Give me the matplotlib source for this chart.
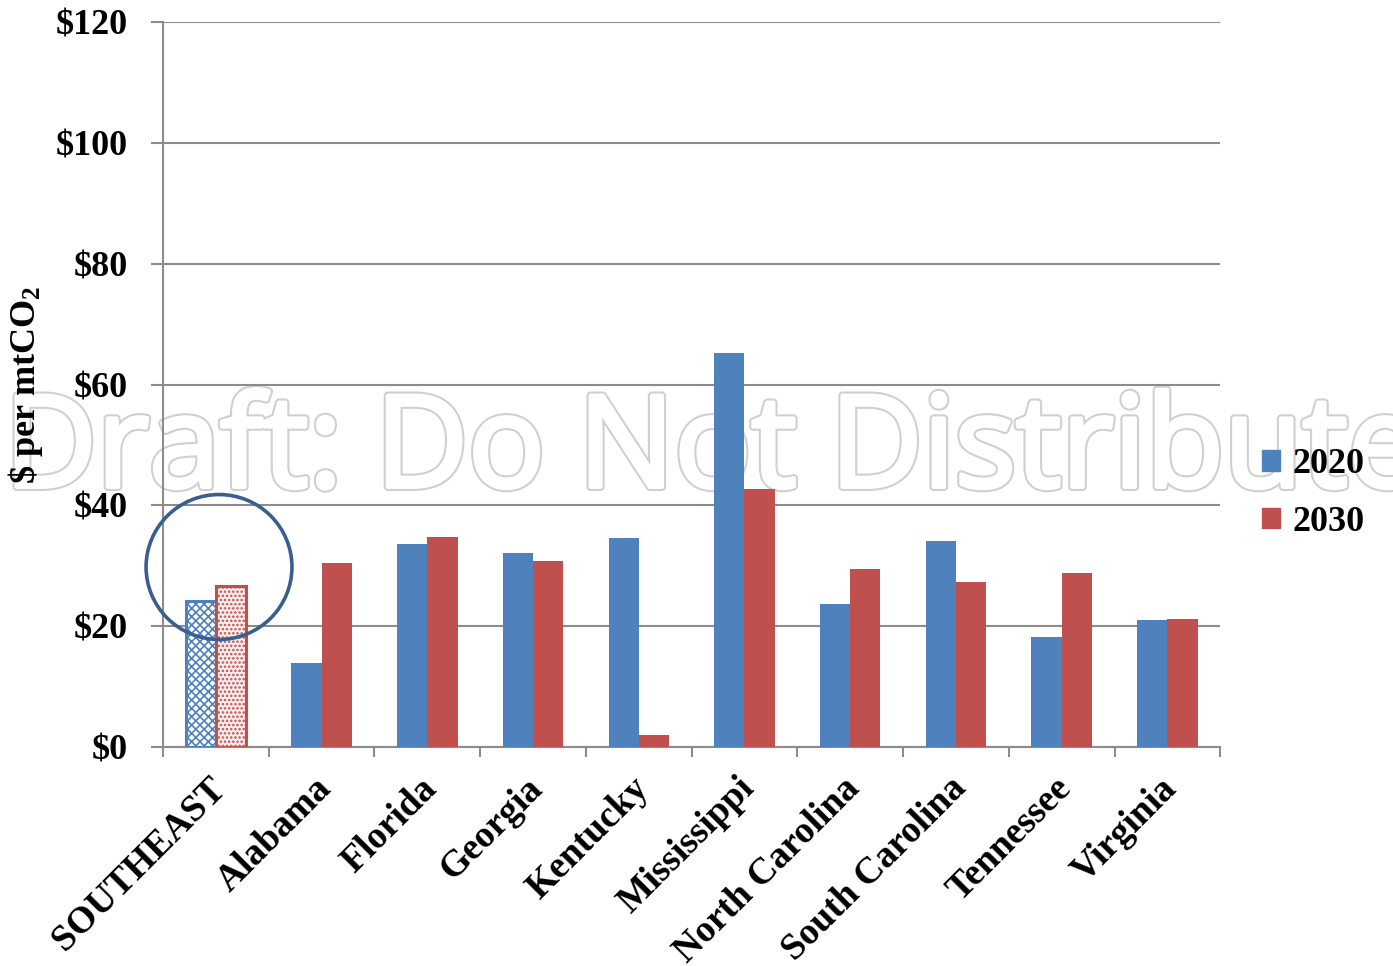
import matplotlib.pyplot as plt
import matplotlib.patheffects as pe
import matplotlib.transforms as mtransforms
from matplotlib.patches import Ellipse, Patch
import numpy as np

states = ['SOUTHEAST', 'Alabama', 'Florida', 'Georgia', 'Kentucky', 'Mississippi',
          'North Carolina', 'South Carolina', 'Tennessee', 'Virginia']
cost_2020 = [24.2, 13.9, 33.6, 32.1, 34.6, 65.2, 23.7, 34.1, 18.2, 21.0]
cost_2030 = [26.7, 30.5, 34.8, 30.8, 2.0, 42.7, 29.5, 27.3, 28.8, 21.2]
yticks = [0, 20, 40, 60, 80, 100, 120]

blue = '#4F81BD'
red = '#C0504D'
grey = '#8c8c8c'

plt.rcParams['font.family'] = 'Liberation Serif'
plt.rcParams['font.weight'] = 'bold'
plt.rcParams['mathtext.fontset'] = 'custom'
plt.rcParams['mathtext.bf'] = 'Liberation Serif:bold'
plt.rcParams['mathtext.rm'] = 'Liberation Serif:bold'
plt.rcParams['mathtext.default'] = 'bf'
plt.rcParams['hatch.linewidth'] = 1.2

fig = plt.figure(figsize=(13.93, 9.66), dpi=100)

# watermark sits behind everything
fig.text(0.003, 0.496, 'Draft: Do Not Distribute', family='Open Sans', fontsize=92,
         color='white', weight='normal', zorder=-1,
         path_effects=[pe.SimplePatchShadow(offset=(2, -2), shadow_rgbFace='#888888', alpha=0.45),
                       pe.Stroke(linewidth=6, foreground='#d0d0d0'),
                       pe.Stroke(linewidth=3, foreground='white'), pe.Normal()])

ax = fig.add_axes([0.117, 0.2267, 0.759, 0.7503])
ax.patch.set_alpha(0)

x = np.arange(len(states))
w = 0.286
ax.bar(x[1:] - w / 2, cost_2020[1:], w, color=blue, zorder=3)
ax.bar(x[1:] + w / 2, cost_2030[1:], w, color=red, zorder=3)
# regional bars highlighted with pattern fill
ax.bar(x[0] - w / 2, cost_2020[0], w, facecolor='white', edgecolor=blue, hatch='xxxx',
       linewidth=2.2, zorder=3)
ax.bar(x[0] + w / 2, cost_2030[0], w, facecolor='#fbeeee', edgecolor=red, hatch='....',
       linewidth=2.2, zorder=3)

ax.add_patch(Ellipse((0.03, 29.8), 1.38, 24.0, fill=False, edgecolor='#3A5F8F',
                     linewidth=2.6, zorder=4, clip_on=False))

ax.set_xlim(-0.5, 9.5)
ax.set_ylim(0, 120)
ax.set_yticks(yticks)
ax.set_yticklabels(['$%d' % v for v in yticks], fontsize=26)
ax.set_xticks(x)
ax.set_xticklabels(states, fontsize=27, rotation=45, ha='right', rotation_mode='anchor')
ax.set_xticks(np.arange(-0.5, 10, 1), minor=True)
ax.tick_params(axis='x', which='major', length=0, pad=17)
ax.tick_params(axis='x', which='minor', length=7, width=1.5, color=grey)
ax.tick_params(axis='y', length=9, width=1.5, color=grey, pad=16)
shift = mtransforms.ScaledTranslation(-0.08, 0, fig.dpi_scale_trans)
for lab in ax.get_xticklabels():
    lab.set_transform(lab.get_transform() + shift)

ax.grid(axis='y', color=grey, linewidth=1.5, zorder=0)
ax.set_axisbelow(True)
for s in ['top', 'right']:
    ax.spines[s].set_visible(False)
for s in ['left', 'bottom']:
    ax.spines[s].set_color(grey)
    ax.spines[s].set_linewidth(1.5)

ax.set_ylabel(r'\$ per mtCO$_2$', fontsize=26, weight='bold')
ax.yaxis.set_label_coords(-0.112, 0.5)

handles = [Patch(color=blue), Patch(color=red)]
fig.legend(handles, ['2020', '2030'], loc='center left', bbox_to_anchor=(0.906, 0.489),
           frameon=False, fontsize=26, handlelength=0.5, handleheight=0.5,
           handletextpad=0.35, labelspacing=0.68, borderpad=0, borderaxespad=0)

fig.savefig('out.png', dpi=100)
